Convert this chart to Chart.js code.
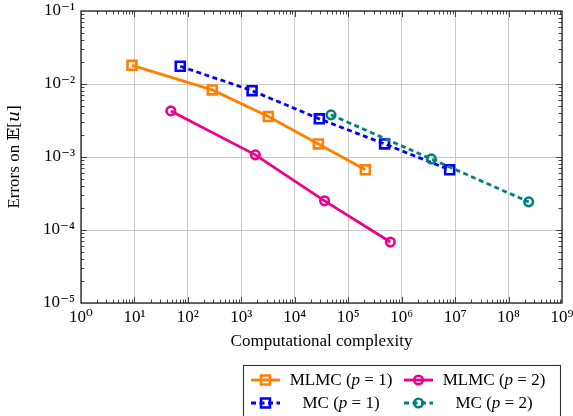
<!DOCTYPE html>
<html>
<head>
<meta charset="utf-8">
<script src="https://cdn.jsdelivr.net/npm/chart.js@4/dist/chart.umd.min.js"></script>
<style>
html,body{margin:0;padding:0;background:#fff;}
canvas{display:block;}
</style>
</head>
<body>
<canvas id="c" width="573" height="416"></canvas>
<script>
// ---- data ----
const mlmc1X = [9.0, 286, 3200, 27600, 209000];
const mlmc1Y = [0.0180, 0.0083, 0.00358, 0.00151, 0.000667];
const mlmc2X = [48, 1830, 36100, 614000];
const mlmc2Y = [0.00428, 0.00107, 0.000251, 0.0000684];
const mc1X = [72, 1590, 28800, 479000, 7.9e6];
const mc1Y = [0.0175, 0.0081, 0.00333, 0.00151, 0.000667];
const mc2X = [47600, 3.59e6, 2.38e8];
const mc2Y = [0.00378, 0.00094, 0.000243];

const xTicks = [1, 1e1, 1e2, 1e3, 1e4, 1e5, 1e6, 1e7, 1e8, 1e9];
const xTickLabels = ['10⁰','10¹','10²','10³','10⁴','10⁵','10⁶','10⁷','10⁸','10⁹'];
const yTicks = [1e-5, 1e-4, 1e-3, 1e-2, 1e-1];
const yTickLabels = ['10⁻⁵','10⁻⁴','10⁻³','10⁻²','10⁻¹'];

const seriesNames = ['MLMC', 'MLMC', 'MC', 'MC'];
const seriesP = ['1', '2', '1', '2'];

const xTitle = 'Computational complexity';
const yTitle = 'Errors on 𝔼[𝑢]';

const SERIF = '"Liberation Serif", "DejaVu Serif", serif';
const ORANGE = '#ff8000', MAGENTA = '#ec008c', BLUE = '#0000ff', TEAL = '#008080';

function pts(xs, ys){ return xs.map((x,i)=>({x:x, y:ys[i]})); }

const datasets = [
  {label:'MLMC (p = 1)', data:pts(mlmc1X,mlmc1Y), borderColor:ORANGE, borderWidth:2.8,
   pointStyle:'rect', pointRadius:6.3, pointBorderWidth:2.6, order:3, dash:[]},
  {label:'MLMC (p = 2)', data:pts(mlmc2X,mlmc2Y), borderColor:MAGENTA, borderWidth:2.8,
   pointStyle:'circle', pointRadius:4.3, pointBorderWidth:2.6, order:2, dash:[]},
  {label:'MC (p = 1)', data:pts(mc1X,mc1Y), borderColor:BLUE, borderWidth:2.8,
   pointStyle:'rect', pointRadius:6.3, pointBorderWidth:2.6, order:1, dash:[5,3.5]},
  {label:'MC (p = 2)', data:pts(mc2X,mc2Y), borderColor:TEAL, borderWidth:2.8,
   pointStyle:'circle', pointRadius:4.3, pointBorderWidth:2.6, order:0, dash:[5,3.5]}
].map(d => Object.assign(d, {
  backgroundColor:'rgba(0,0,0,0)', pointBackgroundColor:'rgba(0,0,0,0)',
  pointBorderColor:d.borderColor, pointHoverRadius:d.pointRadius,
  borderDash:d.dash, tension:0, fill:false, showLine:true
}));

// inner ticks + frame
const framePlugin = {
  id:'frame',
  beforeDatasetsDraw(chart){
    const {ctx, chartArea:a, scales:{x, y}} = chart;
    ctx.save();
    ctx.strokeStyle = '#333';
    ctx.lineWidth = 0.9;
    ctx.beginPath();
    for (let e = 0; e < 9; e++) {
      for (let k = 1; k <= 9; k++) {
        if (k === 1 && e === 0) continue;
        const v = k * Math.pow(10, e);
        const px = Math.round(x.getPixelForValue(v)) + 0.5;
        const len = k === 1 ? 6 : 3.5;
        ctx.moveTo(px, a.bottom); ctx.lineTo(px, a.bottom - len);
        ctx.moveTo(px, a.top); ctx.lineTo(px, a.top + len);
      }
    }
    for (let e = -5; e < -1; e++) {
      for (let k = 1; k <= 9; k++) {
        if (k === 1 && e === -5) continue;
        const v = k * Math.pow(10, e);
        const py = Math.round(y.getPixelForValue(v)) + 0.5;
        const len = k === 1 ? 6 : 3.5;
        ctx.moveTo(a.left, py); ctx.lineTo(a.left + len, py);
        ctx.moveTo(a.right, py); ctx.lineTo(a.right - len, py);
      }
    }
    ctx.stroke();
    ctx.lineWidth = 1.3;
    ctx.strokeStyle = '#222';
    ctx.strokeRect(a.left, a.top, a.right - a.left, a.bottom - a.top);
    ctx.restore();
  }
};

// legend drawn from dataset styles
const legendPlugin = {
  id:'texLegend',
  afterDraw(chart){
    const ctx = chart.ctx;
    const box = {l:243.5, t:365.5, r:560.5, b:430};
    ctx.save();
    ctx.fillStyle = '#fff';
    ctx.fillRect(box.l, box.t, box.r - box.l, box.b - box.t);
    ctx.strokeStyle = '#333';
    ctx.lineWidth = 1.1;
    ctx.strokeRect(box.l, box.t, box.r - box.l, box.b - box.t);
    const cols = [{s0:251, s1:280, tc:341}, {s0:404, s1:433, tc:494}];
    const rows = [380, 403];
    [0, 1, 2, 3].forEach((di, i) => {
      const ds = chart.data.datasets[di];
      const c = cols[i % 2], ry = rows[Math.floor(i / 2)];
      ctx.strokeStyle = ds.borderColor;
      ctx.lineWidth = ds.borderWidth;
      ctx.setLineDash(ds.borderDash);
      ctx.beginPath();
      ctx.moveTo(c.s0, ry); ctx.lineTo(c.s1, ry);
      ctx.stroke();
      ctx.setLineDash([]);
      const mx = (c.s0 + c.s1) / 2;
      ctx.lineWidth = ds.pointBorderWidth;
      ctx.beginPath();
      if (ds.pointStyle === 'rect') {
        const s = Math.SQRT1_2 * ds.pointRadius;
        ctx.rect(mx - s, ry - s, 2 * s, 2 * s);
      } else {
        ctx.arc(mx, ry, ds.pointRadius, 0, Math.PI * 2);
      }
      ctx.stroke();
      const parts = [
        {t: seriesNames[di] + ' (', f: '17px ' + SERIF},
        {t: 'p', f: 'italic 17px ' + SERIF},
        {t: ' = ' + seriesP[di] + ')', f: '17px ' + SERIF}
      ];
      let w = 0;
      parts.forEach(p => { ctx.font = p.f; p.w = ctx.measureText(p.t).width; w += p.w; });
      let x0 = c.tc - w / 2;
      ctx.fillStyle = '#000';
      ctx.textBaseline = 'middle';
      parts.forEach(p => { ctx.font = p.f; ctx.fillText(p.t, x0, ry + 1); x0 += p.w; });
    });
    ctx.restore();
  }
};

new Chart(document.getElementById('c'), {
  type:'line',
  data:{datasets:datasets},
  options:{
    responsive:false,
    animation:false,
    events:[],
    layout:{padding:{top:11, right:11, left:0, bottom:60}},
    plugins:{legend:{display:false}, tooltip:{enabled:false}},
    scales:{
      x:{
        type:'logarithmic', min:1, max:1e9, position:'bottom',
        afterBuildTicks(s){ s.ticks = xTicks.map(v => ({value:v})); },
        afterFit(s){ s.height = 53; s.paddingLeft = 0; s.paddingRight = 0; },
        ticks:{
          autoSkip:false, maxRotation:0, padding:4, color:'#000',
          font:{family:SERIF, size:17},
          callback(v){ const i = xTicks.indexOf(v); return i >= 0 ? xTickLabels[i] : ''; }
        },
        grid:{color:'#c4c4c4', lineWidth:0.9, drawTicks:false},
        border:{display:false},
        title:{display:true, text:xTitle, color:'#000', font:{family:SERIF, size:17}, padding:{top:0, bottom:4}}
      },
      y:{
        type:'logarithmic', min:1e-5, max:1e-1, position:'left',
        afterBuildTicks(s){ s.ticks = yTicks.map(v => ({value:v})); },
        afterFit(s){ s.width = 81; s.paddingTop = 0; s.paddingBottom = 0; },
        ticks:{
          autoSkip:false, padding:6, color:'#000',
          font:{family:SERIF, size:17},
          callback(v){ const i = yTicks.findIndex(t => Math.abs(t - v) / t < 1e-6); return i >= 0 ? yTickLabels[i] : ''; }
        },
        grid:{color:'#c4c4c4', lineWidth:0.9, drawTicks:false},
        border:{display:false},
        title:{display:true, text:yTitle, color:'#000', font:{family:SERIF, size:17}, padding:{top:4, bottom:0}}
      }
    }
  },
  plugins:[framePlugin, legendPlugin]
});
</script>
</body>
</html>
